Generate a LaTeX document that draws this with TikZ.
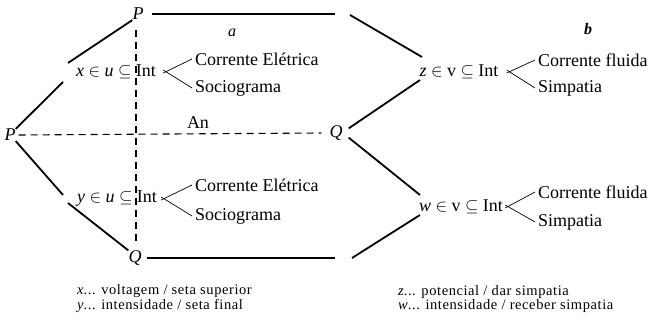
\documentclass[tikz,border=0pt]{standalone}
\usepackage{fontspec}
\setmainfont{Liberation Serif}
\newfontfamily\capfont[LetterSpace=4]{Liberation Serif}
\begin{document}
\begin{tikzpicture}[x=1pt,y=-1pt,
  lbl/.style={inner sep=0pt,font=\fontsize{18}{21}\selectfont},
  pt/.style={inner sep=0pt,font=\fontsize{18}{21}\selectfont\itshape},
  capnote/.style={inner sep=0pt,anchor=west,font=\capfont\fontsize{14.5}{16}\selectfont},
  solidline/.style={line width=1.8pt},
  thickline/.style={line width=2.8pt},
  thinline/.style={line width=1.3pt},
  braceline/.style={line width=0.7pt},
  dashline/.style={line width=1.1pt,dash pattern=on 7pt off 5pt}]
\useasboundingbox (0,0) rectangle (650,320);
% points
\node[pt] (Ptop) at (138,14) {P};
\node[pt] (Pleft) at (10,135) {P};
\node[pt] (Qmid) at (336,133) {Q};
\node[pt] (Qbot) at (135,258) {Q};
\node[lbl,font=\fontsize{16}{18}\selectfont\itshape] (la) at (232,33) {a};
\node[lbl,font=\fontsize{16}{18}\selectfont\itshape\bfseries] (lb) at (588,29) {b};
\node[lbl] (An) at (198,123) {An};
% central nodes
\node[lbl] (xn) at (116,72) {\textit{x} $\in$ \textit{u} $\subseteq$ Int};
\node[lbl] (yn) at (117,199) {\textit{y} $\in$ \textit{u} $\subseteq$ Int};
\node[lbl] (zn) at (459,72) {\textit{z} $\in$ v $\subseteq$ Int};
\node[lbl] (wn) at (461,207) {\textit{w} $\in$ v $\subseteq$ Int};
% children
\node[lbl,anchor=west] (ce1) at (195,59) {Corrente Elétrica};
\node[lbl,anchor=west] (so1) at (195,88) {Sociograma};
\node[lbl,anchor=west] (ce2) at (195,185) {Corrente Elétrica};
\node[lbl,anchor=west] (so2) at (195,216) {Sociograma};
\node[lbl,anchor=west] (cf1) at (538,60) {Corrente fluida};
\node[lbl,anchor=west] (si1) at (538,88) {Simpatia};
\node[lbl,anchor=west] (cf2) at (538,192) {Corrente fluida};
\node[lbl,anchor=west] (si2) at (538,222) {Simpatia};
% braces
\draw[braceline] ([xshift=7pt,yshift=-1pt]xn.east) -- ([xshift=-3pt]ce1.west);
\draw[braceline] ([xshift=7pt,yshift=2pt]xn.east) -- ([xshift=-3pt]so1.west);
\draw[braceline] ([xshift=4pt,yshift=-1pt]yn.east) -- ([xshift=-3pt]ce2.west);
\draw[braceline] ([xshift=4pt,yshift=2pt]yn.east) -- ([xshift=-3pt]so2.west);
\draw[braceline] ([xshift=8pt,yshift=-1pt]zn.east) -- ([xshift=-3pt]cf1.west);
\draw[braceline] ([xshift=8pt,yshift=2pt]zn.east) -- ([xshift=-3pt]si1.west);
\draw[braceline] ([xshift=2pt,yshift=-1pt]wn.east) -- ([xshift=-3pt]cf2.west);
\draw[braceline] ([xshift=2pt,yshift=2pt]wn.east) -- ([xshift=-3pt]si2.west);
% break coordinates
\coordinate (xa) at (63,82);
\coordinate (xb) at (68,63);
\coordinate (ya) at (63,195);
\coordinate (yb) at (68,203);
\coordinate (t1) at (215,14);
\coordinate (t2) at (335,14);
\coordinate (t3) at (350,15);
\coordinate (za) at (422,57);
\coordinate (zb) at (420,80);
\coordinate (wa) at (420,195);
\coordinate (wb) at (420,215);
\coordinate (b1) at (175,258);
\coordinate (b2) at (335,258);
\coordinate (b3) at (352,258);
\coordinate (dv1) at (136,30);
\coordinate (dv2) at (136,242);
% solid lines
\draw[solidline] (Pleft.north east) -- (xa);
\draw[solidline] (xb) -- (Ptop.south west);
\draw[solidline] (Pleft.south east) -- (ya);
\draw[solidline] (yb) -- (Qbot.north west);
\draw[thinline] ([xshift=8pt]Ptop.east) -- (t1);
\draw[thickline] (t1) -- (t2);
\draw[solidline] (t3) -- (za);
\draw[solidline] (zb) -- ([xshift=6pt,yshift=-3pt]Qmid.north east);
\draw[solidline] ([xshift=6pt,yshift=3pt]Qmid.south east) -- (wa);
\draw[thinline] ([xshift=5pt]Qbot.east) -- (b1);
\draw[thickline] (b1) -- (b2);
\draw[solidline] (b3) -- (wb);
% dashed lines
\draw[dashline] ([xshift=3pt]Pleft.east) -- ([xshift=-8pt]Qmid.west);
\draw[dashline] (dv1) -- (dv2);
% captions
\node[capnote] (c1) at (77,291) {\textit{x}... voltagem / seta superior};
\node[capnote] (c2) at (77,306) {\textit{y}... intensidade / seta final};
\node[capnote] (c3) at (398,292) {\textit{z}... potencial / dar simpatia};
\node[capnote] (c4) at (398,306) {\textit{w}... intensidade / receber simpatia};
\end{tikzpicture}
\end{document}
